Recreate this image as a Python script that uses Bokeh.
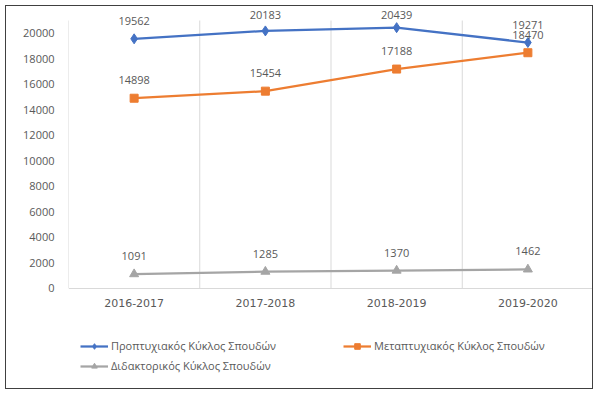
from bokeh.plotting import figure
from bokeh.models import FactorRange, Range1d, Legend, LegendItem
from bokeh.core.properties import value
from bokeh.embed import file_html
from bokeh.resources import INLINE

categories = ["2016-2017", "2017-2018", "2018-2019", "2019-2020"]
undergrad = [19562, 20183, 20439, 19271]
postgrad = [14898, 15454, 17188, 18470]
doctoral = [1091, 1285, 1370, 1462]
series_names = ["Προπτυχιακός Κύκλος Σπουδών", "Μεταπτυχιακός Κύκλος Σπουδών", "Διδακτορικός Κύκλος Σπουδών"]
y_ticks = [0, 2000, 4000, 6000, 8000, 10000, 12000, 14000, 16000, 18000, 20000]
axis_max = 21000     # top of the chart's plot area (gridlines end here)
view_top = 22021     # a little headroom so the top data labels are not clipped
view_bottom = -7654  # room below the 0 baseline for the legend

FONT = "Open Sans"
TXT = "#595959"

# label placement: 18px above the point, but kept inside the chart area (like the original)
PLOT_H = 267.5          # px height of the 0..axis_max plot area
PX_PER_UNIT = PLOT_H / axis_max
LABEL_GAP = 18
TOP_ROOM = 5.5          # px a label centre may rise above the plot-area top


def label_offsets(vals):
    return [-min(LABEL_GAP, TOP_ROOM + (axis_max - v) * PX_PER_UNIT) for v in vals]


p = figure(width=588, height=384, x_range=FactorRange(*categories), y_range=Range1d(view_bottom, view_top),
           output_backend="svg", toolbar_location=None,
           min_border_left=62, min_border_right=1, min_border_top=1, min_border_bottom=5)
p.styles = {"border": "1.5px solid #404040", "margin-left": "5px", "margin-top": "5px"}
p.outline_line_color = None
p.background_fill_color = "white"
p.border_fill_color = "white"
p.ygrid.grid_line_color = None
p.xgrid.grid_line_color = None

# vertical gridlines at category boundaries, from the 0 baseline to the top of the plot area
bounds = list(range(len(categories) + 1))
p.segment(x0=bounds, y0=[0] * len(bounds), x1=bounds, y1=[axis_max] * len(bounds),
          line_color="#D9D9D9", line_width=1, level="underlay")

p.yaxis.ticker = y_ticks
p.yaxis.axis_line_color = None
p.yaxis.major_tick_line_color = None
p.yaxis.minor_tick_line_color = None
p.yaxis.major_label_standoff = 8
p.yaxis.major_label_text_font = FONT
p.yaxis.major_label_text_font_size = "11px"
p.yaxis.major_label_text_color = TXT

p.xaxis.fixed_location = 0
p.xaxis.axis_line_color = "#D9D9D9"
p.xaxis.major_tick_line_color = None
p.xaxis.minor_tick_line_color = None
p.xaxis.major_label_standoff = 5
p.xaxis.major_label_text_font = "DejaVu Sans"
p.xaxis.major_label_text_font_size = "11px"
p.xaxis.major_label_text_color = TXT

colors = ["#4472C4", "#ED7D31", "#A5A5A5"]
markers = [("diamond", 10), ("square", 8), ("triangle", 9)]
items = []
for vals, name, col, (mk, sz) in zip([undergrad, postgrad, doctoral], series_names, colors, markers):
    ln = p.line(categories, vals, line_color=col, line_width=2.25)
    sc = p.scatter(categories, vals, marker=mk, size=sz, fill_color=col, line_color=col)
    p.text(x=categories, y=vals, text=[str(v) for v in vals], y_offset=label_offsets(vals),
           text_align="center", text_baseline="middle", text_font=value(FONT),
           text_font_size="11px", text_color=TXT)
    items.append(LegendItem(label=name, renderers=[ln, sc]))

legend = Legend(items=items, location="bottom_left", orientation="horizontal", ncols=2,
                glyph_width=28, glyph_height=14, label_height=14, label_width=227,
                label_standoff=3, spacing=5, padding=0, margin=12,
                border_line_color=None, background_fill_alpha=0,
                label_text_font=FONT, label_text_font_size="11px", label_text_color=TXT)
p.add_layout(legend, "center")

open("out.html", "w").write(file_html(p, INLINE))
